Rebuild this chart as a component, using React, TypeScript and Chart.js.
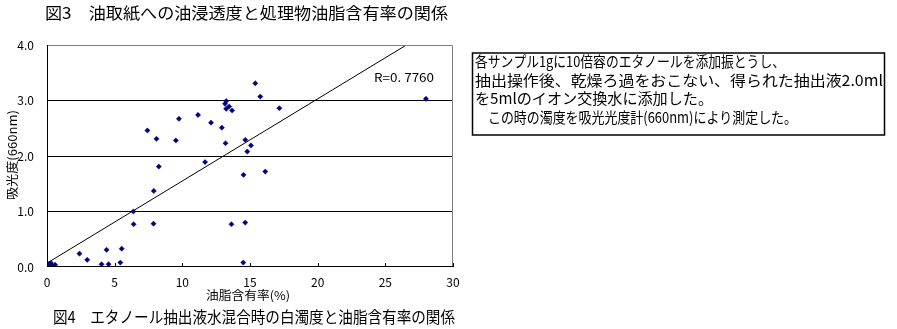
import React, { useEffect, useRef } from "react";
import { Chart, registerables } from "chart.js";

Chart.register(...registerables);

const TITLE_TOP = "図3　油取紙への油浸透度と処理物油脂含有率の関係";
const CAPTION = "図4　エタノール抽出液水混合時の白濁度と油脂含有率の関係";
const X_TITLE = "油脂含有率(%)";
const Y_TITLE = "吸光度(660nm)";
const R_LABEL = "R=0. 7760";
const NOTE_LINES = [
  "各サンプル1gに10倍容のエタノールを添加振とうし、",
  "抽出操作後、乾燥ろ過をおこない、得られた抽出液2.0ml",
  "を5mlのイオン交換水に添加した。",
  "　この時の濁度を吸光光度計(660nm)により測定した。",
];

const oilContent = [
  0.1, 0.2, 0.3, 0.15, 0.35, 0.6, 2.4, 2.97, 4.03, 4.4, 4.55, 5.42, 5.52,
  6.38, 6.4, 7.42, 7.87, 7.89, 8.09, 8.26, 9.52, 9.75, 11.16, 11.68, 12.12,
  12.92, 13.16, 13.24, 13.19, 13.24, 13.46, 13.68, 13.63, 14.52, 14.65, 14.65,
  14.5, 14.8, 15.07, 15.39, 15.76, 16.13, 17.17, 28.0,
];
const absorbance = [
  0.05, 0.02, 0.07, 0.0, 0.03, 0.04, 0.24, 0.13, 0.05, 0.31, 0.05, 0.08, 0.33,
  1.0, 0.77, 2.46, 0.78, 1.37, 2.31, 1.81, 2.28, 2.67, 2.74, 1.89, 2.6, 2.51,
  2.94, 2.99, 2.23, 2.85, 2.89, 2.82, 0.77, 1.66, 2.29, 0.8, 0.08, 2.08, 2.19,
  3.31, 3.07, 1.72, 2.86, 3.03,
];
const TREND_SLOPE = 0.148;
const TREND_INTERCEPT = 0.07;
const X_TICKS = [0, 5, 10, 15, 20, 25, 30];
const Y_TICKS = [0, 1, 2, 3, 4];

const JP = '"Noto Sans CJK JP", "DejaVu Sans", sans-serif';

function fitText(
  ctx: CanvasRenderingContext2D,
  text: string,
  x: number,
  y: number,
  width: number,
  font: string,
  align: "left" | "center" = "left"
) {
  ctx.save();
  ctx.font = font;
  ctx.textBaseline = "middle";
  ctx.textAlign = "left";
  const w = ctx.measureText(text).width;
  const s = width / w;
  const startX = align === "center" ? x - width / 2 : x;
  ctx.translate(startX, y);
  ctx.scale(s, 1);
  ctx.fillText(text, 0, 0);
  ctx.restore();
}

const decorPlugin = {
  id: "decor",
  afterDraw(chart: any) {
    const ctx: CanvasRenderingContext2D = chart.ctx;
    const { left, right, top, bottom } = chart.chartArea;
    const xs = chart.scales.x;
    ctx.save();
    // top/right gray border
    ctx.strokeStyle = "#808080";
    ctx.lineWidth = 1;
    ctx.beginPath();
    ctx.moveTo(left, top + 0.5);
    ctx.lineTo(right - 0.5, top + 0.5);
    ctx.lineTo(right - 0.5, bottom);
    ctx.stroke();
    // left/bottom black axes
    ctx.strokeStyle = "#000";
    ctx.beginPath();
    ctx.moveTo(left + 0.5, top);
    ctx.lineTo(left + 0.5, bottom - 0.5);
    ctx.lineTo(right, bottom - 0.5);
    ctx.stroke();
    // inner x tick marks
    ctx.beginPath();
    X_TICKS.forEach((v) => {
      const px = Math.round(xs.getPixelForValue(v)) + 0.5;
      ctx.moveTo(px, bottom);
      ctx.lineTo(px, bottom - 4);
    });
    ctx.stroke();
    ctx.fillStyle = "#000";
    // titles
    fitText(ctx, TITLE_TOP, 45, 13, 403, `16px ${JP}`);
    fitText(ctx, CAPTION, 53, 317, 402, `16px ${JP}`);
    fitText(ctx, X_TITLE, 248, 295, 84, `12px ${JP}`, "center");
    ctx.save();
    ctx.translate(12, 155);
    ctx.rotate(-Math.PI / 2);
    fitText(ctx, Y_TITLE, 0, 0, 90, `12px ${JP}`, "center");
    ctx.restore();
    fitText(ctx, R_LABEL, 374, 77, 60, `12px ${JP}`);
    // note box
    ctx.strokeStyle = "#000";
    ctx.lineWidth = 1.5;
    ctx.strokeRect(472.5, 53, 412, 82);
    const lineY = [61.5, 80, 98, 117];
    const lineX = [475, 475, 475, 475];
    const lineW = [310, 408, 238, 322];
    NOTE_LINES.forEach((t, i) => {
      fitText(ctx, t, lineX[i], lineY[i], lineW[i], `15px ${JP}`);
    });
    ctx.restore();
  },
};

export default function App() {
  const ref = useRef<HTMLCanvasElement>(null);
  useEffect(() => {
    if (!ref.current) return;
    const pts = oilContent.map((x, i) => ({ x, y: absorbance[i] }));
    const xEnd = (4 - TREND_INTERCEPT) / TREND_SLOPE;
    const trend = [
      { x: 0, y: TREND_INTERCEPT },
      { x: xEnd, y: TREND_INTERCEPT + TREND_SLOPE * xEnd },
    ];
    const chart = new Chart(ref.current, {
      type: "scatter",
      data: {
        datasets: [
          {
            data: pts,
            pointStyle: "rectRot",
            pointRadius: 2.6,
            pointBorderWidth: 0.5,
            backgroundColor: "#000080",
            borderColor: "#000080",
          },
          {
            data: trend,
            showLine: true,
            pointRadius: 0,
            borderColor: "#000",
            borderWidth: 1,
          } as any,
        ],
      },
      options: {
        animation: false,
        responsive: true,
        maintainAspectRatio: false,
        layout: { padding: { left: 0, right: 444, top: 45, bottom: 0 } },
        plugins: { legend: { display: false }, tooltip: { enabled: false } },
        scales: {
          x: {
            type: "linear",
            min: 0,
            max: 30,
            afterFit: (s: any) => {
              s.height = 62;
            },
            afterBuildTicks: (s: any) => {
              s.ticks = X_TICKS.map((v) => ({ value: v }));
            },
            grid: { display: false, drawTicks: false },
            border: { display: false },
            ticks: {
              padding: 8,
              color: "#000",
              font: { family: JP, size: 12 },
              maxRotation: 0,
              callback: (v: any) => String(v),
            },
          },
          y: {
            type: "linear",
            min: 0,
            max: 4,
            afterFit: (s: any) => {
              s.width = 47;
            },
            afterBuildTicks: (s: any) => {
              s.ticks = Y_TICKS.map((v) => ({ value: v }));
            },
            grid: {
              drawTicks: false,
              color: (c: any) =>
                c.tick && (c.tick.value === 0 || c.tick.value === 4)
                  ? "rgba(0,0,0,0)"
                  : "#000",
              lineWidth: 1,
            },
            border: { display: false },
            ticks: {
              padding: 13,
              color: "#000",
              font: { family: JP, size: 12 },
              callback: (v: any) => Number(v).toFixed(1),
            },
          },
        },
      },
      plugins: [decorPlugin],
    });
    return () => chart.destroy();
  }, []);
  return (
    <div
      style={{
        position: "absolute",
        left: 0,
        top: 0,
        width: 897,
        height: 329,
        background: "#fff",
      }}
    >
      <canvas ref={ref} />
    </div>
  );
}
